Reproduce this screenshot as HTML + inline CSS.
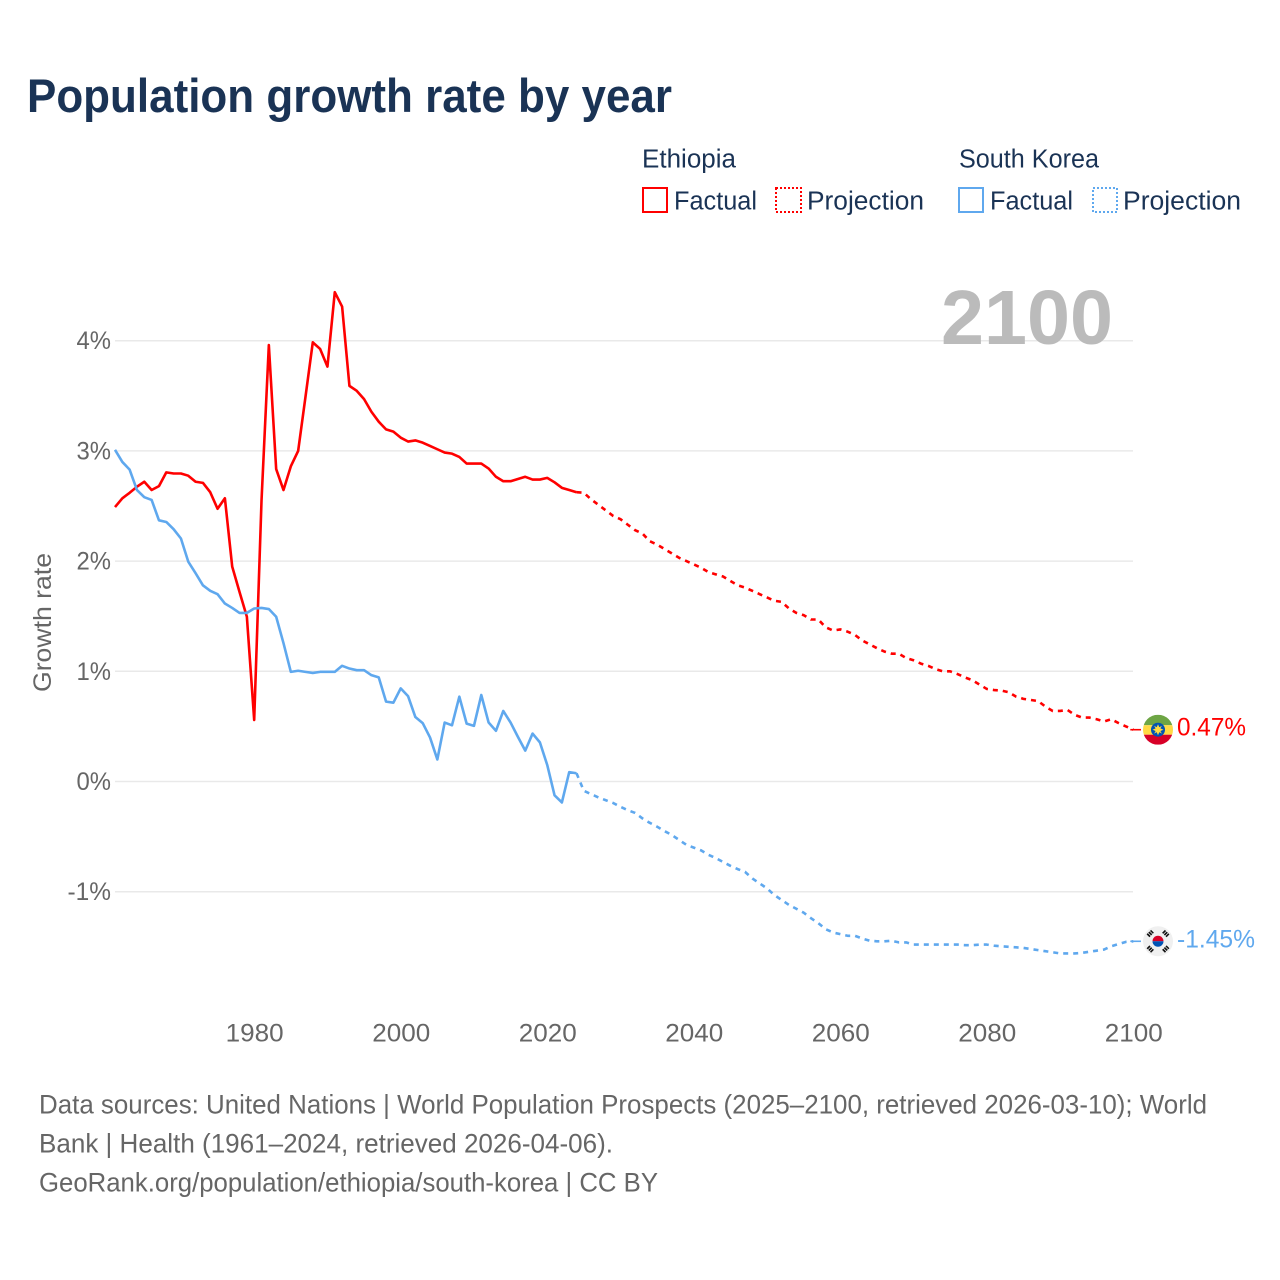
<!DOCTYPE html>
<html lang="en">
<head>
<meta charset="utf-8">
<title>Population growth rate by year</title>
<style>
html,body{margin:0;padding:0;background:#fff;width:1280px;height:1280px;overflow:hidden}
svg{display:block}
text{font-family:"Liberation Sans",sans-serif}
</style>
</head>
<body>
<svg id="chart" xmlns="http://www.w3.org/2000/svg" width="1280" height="1280" viewBox="0 0 1280 1280">
  <rect x="0" y="0" width="1280" height="1280" fill="#fff"/>
  <text x="27" y="112" font-size="47" font-weight="700" fill="#1a3355" textLength="645" lengthAdjust="spacingAndGlyphs">Population growth rate by year</text>

  <g font-size="25.5" fill="#1a3355">
    <text x="642" y="167.5" textLength="94" lengthAdjust="spacingAndGlyphs">Ethiopia</text>
    <text x="959" y="167.5" textLength="140" lengthAdjust="spacingAndGlyphs">South Korea</text>
    <g>
      <rect x="643" y="188" width="24" height="24" fill="none" stroke="#ff0000" stroke-width="2"/>
      <text x="674" y="209.5" textLength="83" lengthAdjust="spacingAndGlyphs">Factual</text>
    </g>
    <g>
      <rect x="776" y="188" width="25" height="24" fill="none" stroke="#ff0000" stroke-width="2" stroke-dasharray="2 2"/>
      <text x="807" y="209.5" textLength="117" lengthAdjust="spacingAndGlyphs">Projection</text>
    </g>
    <g>
      <rect x="959" y="188" width="24" height="24" fill="none" stroke="#5fa8ee" stroke-width="2"/>
      <text x="990" y="209.5" textLength="83" lengthAdjust="spacingAndGlyphs">Factual</text>
    </g>
    <g>
      <rect x="1093" y="188" width="24" height="24" fill="none" stroke="#5fa8ee" stroke-width="2" stroke-dasharray="2 2"/>
      <text x="1123" y="209.5" textLength="118" lengthAdjust="spacingAndGlyphs">Projection</text>
    </g>
  </g>

  <g id="grid"></g>
  <text id="year-label" x="1113" y="344" text-anchor="end" font-size="77" font-weight="700" fill="#bbbbbb" textLength="172" lengthAdjust="spacingAndGlyphs">2100</text>
  <g id="y-ticks" font-size="25" fill="#666666"></g>
  <g id="x-ticks" font-size="25" fill="#666666"></g>
  <text transform="translate(51 622.5) rotate(-90)" text-anchor="middle" font-size="25" fill="#666666" textLength="139" lengthAdjust="spacingAndGlyphs">Growth rate</text>
  <g id="series"></g>
  <defs>
    <clipPath id="flag-clip-et"><circle cx="0" cy="0" r="15"/></clipPath>
  </defs>
  <g id="flag-et">
    <g clip-path="url(#flag-clip-et)">
      <rect x="-15" y="-15" width="30" height="10.5" fill="#6da544"/>
      <rect x="-15" y="-4.5" width="30" height="9.5" fill="#ffda44"/>
      <rect x="-15" y="5" width="30" height="10" fill="#d80027"/>
    </g>
    <circle cx="0" cy="0" r="7" fill="#0052b4"/>
    <path d="M0-5.5L1.3-2.4 3.9-3.9 2.4-1.3 5.5 0 2.4 1.3 3.9 3.9 1.3 2.4 0 5.5-1.3 2.4-3.9 3.9-2.4 1.3-5.5 0-2.4-1.3-3.9-3.9-1.3-2.4Z" fill="#ffda44"/>
    <circle cx="0" cy="0" r="2.8" fill="#ffda44"/>
  </g>
  <g id="flag-kr">
    <circle cx="0" cy="0" r="15" fill="#f0f0f0"/>
    <path d="M-5.5 0A5.5 5.5 0 0 1 5.5 0Z" fill="#d80027"/>
    <path d="M-5.5 0A5.5 5.5 0 0 0 5.5 0Z" fill="#0052b4"/>
    <g stroke="#111" stroke-width="4" stroke-dasharray="1.7 0.7">
      <line x1="-10" y1="-5.5" x2="-5.5" y2="-10"/>
      <line x1="5.5" y1="-10" x2="10" y2="-5.5"/>
      <line x1="-10" y1="5.5" x2="-5.5" y2="10"/>
      <line x1="5.5" y1="10" x2="10" y2="5.5"/>
    </g>
  </g>
  <text id="value-et" x="1177" font-size="25" fill="#ff0000"></text>
  <text id="value-kr" x="1177" font-size="25" fill="#5fa8ee"></text>

  <g font-size="26.5" fill="#666666">
    <text x="39" y="1113.5" textLength="1168" lengthAdjust="spacingAndGlyphs">Data sources: United Nations | World Population Prospects (2025–2100, retrieved 2026-03-10); World</text>
    <text x="39" y="1152.5" textLength="574" lengthAdjust="spacingAndGlyphs">Bank | Health (1961–2024, retrieved 2026-04-06).</text>
    <text x="39" y="1191.5" textLength="619" lengthAdjust="spacingAndGlyphs">GeoRank.org/population/ethiopia/south-korea | CC BY</text>
  </g>
</svg>
<script>
const factualStartYear = 1961;
const projectionStartYear = 2025;
const xTickYears = [1980, 2000, 2020, 2040, 2060, 2080, 2100];
const yTickValues = [-1, 0, 1, 2, 3, 4];
const ethiopiaFactual = [2.49,2.57,2.62,2.675,2.72,2.645,2.68,2.805,2.795,2.795,2.775,2.72,2.71,2.625,2.475,2.57,1.95,1.72,1.495,0.558,2.55,3.96,2.835,2.645,2.86,3.00,3.49,3.985,3.925,3.765,4.44,4.31,3.59,3.545,3.47,3.355,3.265,3.195,3.175,3.12,3.085,3.095,3.075,3.045,3.015,2.985,2.975,2.945,2.885,2.885,2.885,2.84,2.765,2.725,2.725,2.745,2.765,2.74,2.74,2.755,2.715,2.665,2.645,2.625];
const ethiopiaProjection = [2.62,2.56,2.51,2.46,2.41,2.38,2.33,2.28,2.25,2.18,2.15,2.11,2.07,2.03,2.00,1.97,1.94,1.90,1.88,1.86,1.82,1.78,1.76,1.73,1.70,1.67,1.64,1.63,1.57,1.53,1.51,1.47,1.47,1.40,1.37,1.38,1.36,1.33,1.28,1.245,1.21,1.18,1.16,1.16,1.12,1.10,1.07,1.05,1.02,1.00,1.00,0.975,0.945,0.92,0.88,0.84,0.83,0.825,0.81,0.77,0.75,0.74,0.73,0.68,0.64,0.64,0.65,0.605,0.58,0.58,0.565,0.545,0.565,0.53,0.50,0.47];
const koreaFactual = [3.01,2.90,2.83,2.645,2.58,2.555,2.37,2.355,2.29,2.205,1.995,1.89,1.78,1.73,1.70,1.615,1.575,1.53,1.53,1.57,1.575,1.565,1.495,1.255,0.995,1.005,0.995,0.985,0.995,0.995,0.995,1.05,1.025,1.01,1.01,0.965,0.945,0.725,0.715,0.845,0.775,0.585,0.53,0.40,0.20,0.535,0.51,0.77,0.525,0.505,0.785,0.535,0.46,0.64,0.535,0.405,0.28,0.435,0.355,0.15,-0.125,-0.19,0.085,0.075];
const koreaProjection = [-0.085,-0.115,-0.145,-0.17,-0.195,-0.23,-0.26,-0.285,-0.335,-0.375,-0.41,-0.45,-0.485,-0.53,-0.575,-0.60,-0.625,-0.665,-0.695,-0.73,-0.765,-0.795,-0.82,-0.88,-0.925,-0.97,-1.03,-1.075,-1.12,-1.155,-1.19,-1.24,-1.285,-1.34,-1.37,-1.385,-1.40,-1.40,-1.425,-1.445,-1.45,-1.45,-1.445,-1.46,-1.46,-1.48,-1.48,-1.48,-1.48,-1.48,-1.48,-1.48,-1.485,-1.485,-1.48,-1.48,-1.49,-1.495,-1.50,-1.505,-1.51,-1.52,-1.53,-1.54,-1.55,-1.56,-1.56,-1.56,-1.555,-1.545,-1.535,-1.525,-1.495,-1.475,-1.455,-1.45];

const SVG_NS = 'http://www.w3.org/2000/svg';
const COLOR_ET = '#ff0000';
const COLOR_KR = '#5fa8ee';
function xScale(year) { return 115 + (year - 1961) * (1133.3 - 115) / 139; }
function yScale(value) { return 781.5 - value * 110.2; }
function make(tag, attrs, parent) {
  const el = document.createElementNS(SVG_NS, tag);
  for (const k in attrs) el.setAttribute(k, attrs[k]);
  parent.appendChild(el);
  return el;
}
function labelWidth(label) {
  let w = 0;
  for (const c of label) w += c === '%' ? 20 : c === '-' ? 9 : c === '.' ? 5.5 : 14.5;
  return w;
}
function pathFrom(startYear, values, prefix) {
  const pts = prefix.slice();
  values.forEach(function (v, i) { pts.push([xScale(startYear + i), yScale(v)]); });
  return 'M' + pts.map(function (p) { return p[0].toFixed(2) + ' ' + p[1].toFixed(2); }).join('L');
}
function drawSeries(parent, key, color, factual, projection) {
  const g = make('g', { fill: 'none', stroke: color, 'stroke-width': 2.6, 'stroke-linejoin': 'round' }, parent);
  
  
  const solid = make('path', { d: pathFrom(factualStartYear, factual, []) }, g);
  
  
  const lastYear = factualStartYear + factual.length - 1;
  const joint = [[xScale(lastYear), yScale(factual[factual.length - 1])]];
  const dashed = make('path', { d: pathFrom(projectionStartYear, projection, joint), 'stroke-dasharray': '5 5' }, g);
  
  
  const endYear = projectionStartYear + projection.length - 1;
  const endY = yScale(projection[projection.length - 1]);
  const leader = make('line', { x1: xScale(endYear) - 3, y1: endY, x2: 1141, y2: endY, 'stroke-width': 1.6 }, g);
  
  
}

const gridG = document.getElementById('grid');
const yTicksG = document.getElementById('y-ticks');
yTickValues.forEach(function (v) {
  const line = make('line', { x1: 115, x2: 1133, y1: yScale(v), y2: yScale(v), stroke: '#e9e9e9', 'stroke-width': 1.5 }, gridG);
  
  
  const label = v + '%';
  const t = make('text', { x: 111, y: yScale(v) + 8.5, 'text-anchor': 'end', textLength: labelWidth(label), lengthAdjust: 'spacingAndGlyphs' }, yTicksG);
  
  
  t.textContent = label;
});
const xTicksG = document.getElementById('x-ticks');
xTickYears.forEach(function (yr) {
  const label = String(yr);
  const t = make('text', { x: xScale(yr) + 0.5, y: 1041.5, 'text-anchor': 'middle', textLength: labelWidth(label), lengthAdjust: 'spacingAndGlyphs' }, xTicksG);
  
  
  t.textContent = label;
});

const seriesG = document.getElementById('series');
drawSeries(seriesG, 'ethiopia', COLOR_ET, ethiopiaFactual, ethiopiaProjection);
drawSeries(seriesG, 'south-korea', COLOR_KR, koreaFactual, koreaProjection);

function placeEnd(flagId, valueId, projection) {
  const last = projection[projection.length - 1];
  const y = yScale(last);
  document.getElementById(flagId).setAttribute('transform', 'translate(1158 ' + y.toFixed(2) + ')');
  const label = last.toFixed(2) + '%';
  const t = document.getElementById(valueId);
  t.setAttribute('y', (y + 6).toFixed(2));
  t.setAttribute('textLength', labelWidth(label));
  t.setAttribute('lengthAdjust', 'spacingAndGlyphs');
  t.textContent = label;
}
placeEnd('flag-et', 'value-et', ethiopiaProjection);
placeEnd('flag-kr', 'value-kr', koreaProjection);
</script>
</body>
</html>
